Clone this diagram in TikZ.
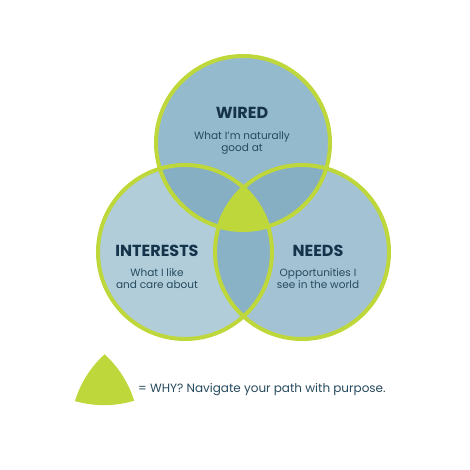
\documentclass[tikz,border=0pt]{standalone}
\usepackage{fontspec}
\setmainfont{Poppins}
\usepackage{xcolor}
\definecolor{limegreen}{HTML}{BED73B}
\definecolor{wiredblue}{HTML}{94BACD}
\definecolor{likeblue}{HTML}{B0CDD9}
\definecolor{needblue}{HTML}{A3C3D5}
\definecolor{overlapblue}{HTML}{86AFC4}
\definecolor{deepnavy}{HTML}{15334A}
\definecolor{slatenavy}{HTML}{274A5E}
\usetikzlibrary{positioning}

\begin{document}
\begin{tikzpicture}[x=1pt,y=-1pt,
      ring/.style={circle,draw=limegreen,line width=4pt,
                   minimum size=174pt,inner sep=0pt},
      ttl/.style={font=\bfseries\fontsize{16}{18}\selectfont,text=deepnavy,inner sep=0pt},
      sub/.style={font=\fontsize{10.5}{12}\selectfont,text=slatenavy,align=center,inner sep=0pt},
      why/.style={font=\fontsize{12}{14}\selectfont,text=slatenavy,inner sep=0pt}]
      \useasboundingbox (0,0) rectangle (469,470);
      \coordinate (cw) at (243,143);
      \coordinate (ci) at (185,252);
      \coordinate (cn) at (302,252);
      % circle fills
      \fill[wiredblue] (cw) circle (87pt);
      \fill[likeblue] (ci) circle (87pt);
      \fill[needblue] (cn) circle (87pt);
      % pairwise overlaps
      \begin{scope}
        \clip (cw) circle (87pt);
        \fill[overlapblue] (ci) circle (87pt);
        \fill[overlapblue] (cn) circle (87pt);
      \end{scope}
      \begin{scope}
        \clip (ci) circle (87pt);
        \fill[overlapblue!90!likeblue] (cn) circle (87pt);
      \end{scope}
      % centre = why
      \begin{scope}
        \clip (cw) circle (87pt); \clip (ci) circle (87pt);
        \fill[limegreen] (cn) circle (87pt);
      \end{scope}
      % outlines
      \foreach \n/\c in {wired/cw,like/ci,need/cn} {
        \node[ring] (\n) at (\c) {};
      }
      % labels
      \node[ttl] (t1) at (242,113) {WIRED};
      \node[sub,below=13pt of t1] (s1) {What I'm naturally\\good at};
      \node[ttl] (t2) at (157,251) {INTERESTS};
      \node[sub,below=11pt of t2] (s2) {What I like\\and care about};
      \node[ttl] (t3) at (318,251) {NEEDS};
      \node[sub,below=11pt of t3] (s3) {Opportunities I\\see in the world};
      % legend (same lens, moved down-left)
      \begin{scope}[shift={(104,388)},scale=1.2,shift={(-243,-215.7)}]
        \clip (243,143) circle (87pt); \clip (185,252) circle (87pt);
        \fill[limegreen] (302,252) circle (87pt);
      \end{scope}
      \coordinate (tip) at (134,390);
      \node[why,right=4pt of tip] (why) {= WHY? Navigate your path with purpose.};
    \end{tikzpicture}
\end{document}
